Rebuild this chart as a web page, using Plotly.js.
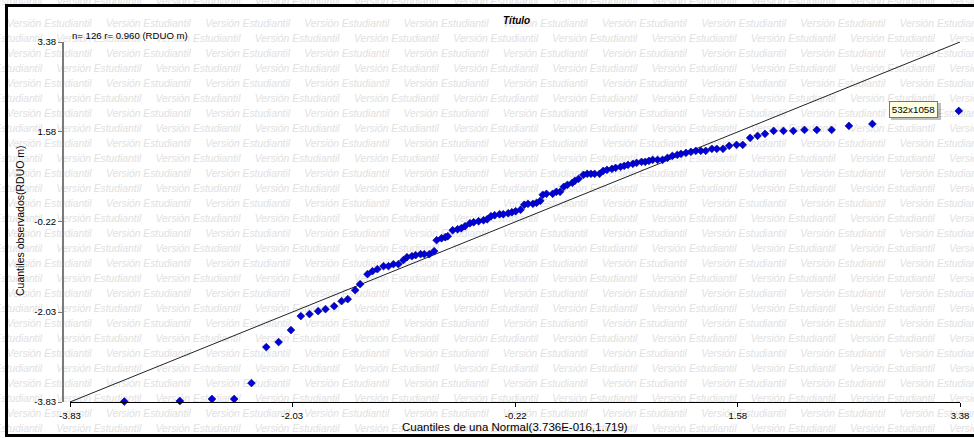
<!DOCTYPE html>
<html>
<head>
<meta charset="utf-8">
<script src="https://cdn.plot.ly/plotly-3.0.1.min.js"></script>
<style>
html,body{margin:0;padding:0;background:#fff;overflow:hidden}
#wrap{position:relative;width:974px;height:438px}
#chart{width:974px;height:438px}
#frame{position:absolute;left:5px;top:4px;width:1010px;height:433px;box-sizing:border-box;border:3px solid #000;pointer-events:none;z-index:10}
</style>
</head>
<body>
<div id="wrap"><div id="chart"></div><div id="frame"></div></div>
<script>
// ---- data ----
const qTeorico = [-3.39,-2.94,-2.68,-2.50,-2.36,-2.24,-2.14,-2.04,-1.96,-1.89,
  -1.82,-1.76,-1.69,-1.63,-1.58,-1.52,-1.48,-1.42,-1.38,-1.34,
  -1.29,-1.25,-1.21,-1.17,-1.13,-1.10,-1.06,-1.03,-0.99,-0.96,
  -0.92,-0.88,-0.86,-0.82,-0.79,-0.77,-0.73,-0.69,-0.66,-0.63,
  -0.59,-0.56,-0.52,-0.48,-0.45,-0.42,-0.39,-0.35,-0.32,-0.28,
  -0.25,-0.22,-0.18,-0.15,-0.12,-0.08,-0.05,-0.02,0.00,0.03,
  0.08,0.11,0.14,0.17,0.20,0.24,0.26,0.29,0.33,0.36,
  0.39,0.42,0.46,0.49,0.52,0.56,0.59,0.63,0.66,0.69,
  0.73,0.76,0.80,0.83,0.86,0.89,0.93,0.97,1.01,1.05,
  1.09,1.12,1.16,1.20,1.24,1.28,1.32,1.37,1.41,1.46,
  1.51,1.57,1.62,1.68,1.74,1.80,1.87,1.95,2.03,2.12,
  2.22,2.34,2.48,2.67,3.37];
const qObservado = [-3.82,-3.81,-3.77,-3.77,-3.45,-2.73,-2.63,-2.39,-2.11,-2.07,
  -2.01,-1.97,-1.91,-1.81,-1.77,-1.59,-1.47,-1.27,-1.21,-1.17,
  -1.11,-1.11,-1.07,-1.07,-0.99,-0.93,-0.91,-0.89,-0.87,-0.87,
  -0.87,-0.81,-0.59,-0.55,-0.53,-0.51,-0.39,-0.37,-0.35,-0.31,
  -0.25,-0.23,-0.21,-0.19,-0.17,-0.11,-0.09,-0.07,-0.07,-0.05,
  -0.03,-0.01,0.02,0.12,0.14,0.14,0.16,0.20,0.32,0.34,
  0.34,0.38,0.38,0.48,0.52,0.56,0.60,0.64,0.72,0.74,
  0.74,0.74,0.74,0.80,0.82,0.84,0.86,0.88,0.90,0.92,
  0.94,0.96,0.98,0.98,1.00,1.02,1.02,1.02,1.06,1.10,
  1.12,1.14,1.16,1.18,1.20,1.20,1.20,1.24,1.24,1.24,
  1.30,1.32,1.32,1.46,1.50,1.54,1.60,1.60,1.60,1.62,
  1.62,1.62,1.70,1.74,2.00];
const refLineX = [-3.83, 3.38];
const refLineY = [-3.83, 3.38];
const tickVals = [-3.83, -2.03, -0.22, 1.58, 3.38];
const tickText = ['-3.83', '-2.03', '-0.22', '1.58', '3.38'];
const chartTitle = 'Título';
const xTitle = 'Cuantiles de una Normal(3.736E-016,1.719)';
const yTitle = 'Cuantiles observados(RDUO m)';
const statsText = 'n= 126 r= 0.960 (RDUO m)';
const tipText = '532x1058';
const watermark = 'Versión Estudiantil';

// ---- layout helpers (pixel -> paper) ----
const W = 974, H = 438, ML = 63, MR = 14, MT = 42, MB = 36;
const PW = W - ML - MR, PH = H - MT - MB;
const px = v => (v - ML) / PW;
const py = v => (H - MB - v) / PH;
const FONT = 'Liberation Sans, Arial, sans-serif';

const shapes = [];
// watermark grid (drawn below the data)
for (let r = -1; r <= 28; r++) {
  const yc = (r === -1) ? 0 : 22 + 15 * r;
  const off = (r % 2 === 0) ? 6.7 : 56.3;
  for (let j = -1; j <= 10; j++) {
    const xs = off + 99.2 * j;
    shapes.push({
      type: 'rect', xref: 'paper', yref: 'paper', layer: 'below',
      x0: px(xs), x1: px(xs + 85), y0: py(yc + 7), y1: py(yc - 7),
      line: {width: 0}, fillcolor: 'rgba(0,0,0,0)',
      label: {text: '<i>' + watermark + '</i>', textposition: 'middle center', padding: 0,
              font: {family: FONT, size: 10.3, color: '#e1e1e1'}}
    });
  }
}
// tooltip shadow
shapes.push({type: 'rect', xref: 'paper', yref: 'paper', layer: 'above',
  x0: px(891), x1: px(941), y0: py(120), y1: py(103),
  line: {width: 0}, fillcolor: 'rgba(0,0,0,0.25)'});

const annotations = [
  {text: '<b><i>' + chartTitle + '</i></b>', xref: 'paper', yref: 'paper', x: px(516), y: py(20),
   xanchor: 'center', yanchor: 'middle', showarrow: false, font: {family: FONT, size: 10, color: '#000'}},
  {text: statsText, xref: 'paper', yref: 'paper', x: px(70), y: py(35),
   xanchor: 'left', yanchor: 'middle', showarrow: false, font: {family: FONT, size: 9.6, color: '#000'}},
  {text: xTitle, xref: 'paper', yref: 'paper', x: px(515), y: py(427),
   xanchor: 'center', yanchor: 'middle', showarrow: false, font: {family: FONT, size: 11.5, color: '#000'}},
  {text: yTitle, xref: 'paper', yref: 'paper', x: px(20), y: py(221), textangle: -90,
   xanchor: 'center', yanchor: 'middle', showarrow: false, font: {family: FONT, size: 10.5, color: '#000'}},
  {text: tipText, xref: 'paper', yref: 'paper', x: px(913.5), y: py(109),
   xanchor: 'center', yanchor: 'middle', showarrow: false, width: 44, height: 12, borderpad: 1.5,
   bgcolor: '#ffffe1', bordercolor: '#767676', borderwidth: 1,
   font: {family: FONT, size: 9.8, color: '#000'}}
];

const traces = [
  {type: 'scatter', mode: 'lines', x: refLineX, y: refLineY,
   line: {color: '#222', width: 1}, hoverinfo: 'skip', showlegend: false},
  {type: 'scatter', mode: 'markers', x: qTeorico, y: qObservado,
   marker: {symbol: 'diamond', size: 6, color: '#0000dd', line: {color: '#000070', width: 0.6}},
   showlegend: false, cliponaxis: false}
];

const layout = {
  width: W, height: H,
  margin: {l: ML, r: MR, t: MT, b: MB, pad: 0},
  paper_bgcolor: '#fff', plot_bgcolor: 'rgba(0,0,0,0)',
  showlegend: false,
  xaxis: {domain: [7 / PW, 1], range: [-3.83, 3.38], tickmode: 'array', tickvals: tickVals, ticktext: tickText,
    showgrid: false, zeroline: false, showline: true, linecolor: '#000', linewidth: 1,
    ticks: 'outside', ticklen: 4, tickcolor: '#000', tickwidth: 1,
    tickfont: {family: FONT, size: 9.6, color: '#000'}, anchor: 'y', fixedrange: true},
  yaxis: {range: [-3.83, 3.38], tickmode: 'array', tickvals: tickVals, ticktext: tickText,
    anchor: 'free', position: 0,
    showgrid: false, zeroline: false, showline: true, linecolor: '#7a7a7a', linewidth: 2,
    ticks: 'outside', ticklen: 4, tickcolor: '#7a7a7a', tickwidth: 1,
    tickfont: {family: FONT, size: 9.6, color: '#000'}, fixedrange: true},
  shapes: shapes,
  annotations: annotations
};

Plotly.newPlot('chart', traces, layout, {displayModeBar: false, staticPlot: true});
</script>
</body>
</html>
